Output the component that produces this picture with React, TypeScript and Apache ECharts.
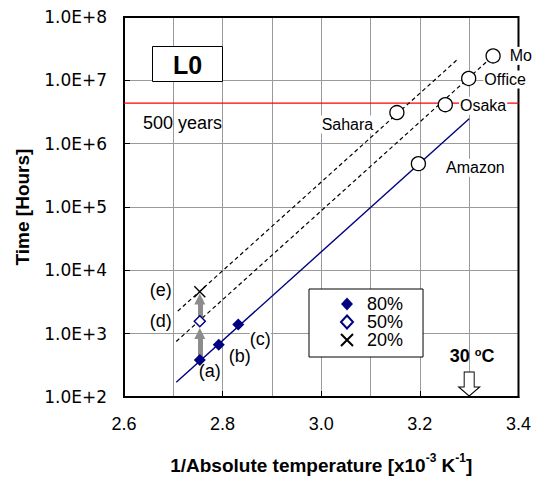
import React, { useEffect, useRef } from "react";
import * as echarts from "echarts";

// ---------- data ----------
const X_MIN = 2.6;
const X_MAX = 3.4;
const X_STEP = 0.2;
const Y_MIN = 1e2;
const Y_MAX = 1e8;

// measured points at 80 / 50 / 20 % (1/T in 1e-3 K^-1, hours)
const X_80 = [2.7537, 2.7921, 2.8317];
const HOURS_80 = [385, 670, 1400];
const NAMES_80 = ["(a)", "(b)", "(c)"];

const X_50 = [2.7537];
const HOURS_50 = [1570];
const NAMES_50 = ["(d)"];

const X_20 = [2.7537];
const HOURS_20 = [4600];
const NAMES_20 = ["(e)"];

// estimated lifetimes at sites
const SITE_NAMES = ["Mo", "Office", "Osaka", "Sahara", "Amazon"];
const SITE_X = [3.3485, 3.299, 3.2516, 3.1534, 3.197];
const SITE_HOURS = [2.43e7, 1.07e7, 4.13e6, 3.1e6, 4.84e5];

// fitted Arrhenius lines (end points)
const FIT_80_X = [2.706, 3.3];
const FIT_80_Y = [171, 2.47e6];
const FIT_50_X = [2.706, 3.3485];
const FIT_50_Y = [753, 2.43e7];
const FIT_20_X = [2.709, 3.277];
const FIT_20_Y = [2270, 2.16e7];

// 500 years limit
const LIMIT_HOURS = 500 * 8760;
const LIMIT_LABEL = "500 years";

// shift arrows (a)->(d)->(e)
const ARROW_X = 2.7537;
const ARROW_FROM = [385, 1570];
const ARROW_TO = [1010, 3520];

// 30 °C marker
const ROOM_X = 3.3;

const PANEL_LABEL = "L0";
const LEGEND_NAMES = ["80%", "50%", "20%"];

// ---------- styles ----------
const FONT = '"Liberation Sans", Arial, Helvetica, sans-serif';
const WIDE_FONT = '"DejaVu Sans", "Liberation Sans", sans-serif';
const NAVY = "#000080";
const RED = "#ff0000";
const GRID_COLOR = "#9a9a9a";
const X_SYMBOL = "path://M0,0L10,10M10,0L0,10";
const DOWN_ARROW =
  "path://M5.5,0L15.5,0L15.5,15L21,15L10.5,24L0,15L5.5,15Z";

const OFFSET_80 = [
  [10, 11],
  [21, 11],
  [22, 15],
];
const OFFSET_50 = [[-39, 0]];
const OFFSET_20 = [[-39, -2]];

const SITE_LABEL_LAYOUT = [
  { position: "right", distance: 8, offset: [0, 0] },
  { position: "right", distance: 7, offset: [0, 1] },
  { position: "right", distance: 6, offset: [0, 1] },
  { position: "left", distance: 15, offset: [0, 12] },
  { position: "right", distance: 19, offset: [0, 4] },
];

const zip = (xs: number[], ys: number[]) => xs.map((x, i) => [x, ys[i]]);

function buildOption() {
  const pointLabel = {
    show: true,
    formatter: "{b}",
    position: "inside",
    color: "#000",
    fontSize: 18,
    fontFamily: FONT,
  };

  return {
    animation: false,
    textStyle: { fontFamily: FONT, color: "#000" },
    title: {
      text: PANEL_LABEL,
      left: 152,
      top: 46,
      padding: [6, 21, 5, 21],
      borderColor: "#000",
      borderWidth: 1,
      backgroundColor: "#fff",
      textStyle: {
        fontSize: 25,
        fontWeight: "bold",
        color: "#000",
        lineHeight: 25,
        fontFamily: FONT,
      },
    },
    legend: {
      data: LEGEND_NAMES,
      left: 309,
      top: 289,
      orient: "vertical",
      itemWidth: 12,
      itemHeight: 13,
      itemGap: 0,
      padding: [6, 20, 8, 31],
      borderColor: "#000",
      borderWidth: 1,
      backgroundColor: "#fff",
      selectedMode: false,
      textStyle: {
        fontSize: 18,
        color: "#000",
        lineHeight: 18,
        padding: [0, 0, 0, 9],
        fontFamily: FONT,
      },
    },
    grid: {
      left: 124,
      right: 11,
      top: 17,
      bottom: 78,
      show: true,
      z: 1,
      borderColor: "#000",
      borderWidth: 2,
      backgroundColor: "transparent",
    },
    xAxis: {
      type: "value",
      min: X_MIN,
      max: X_MAX,
      interval: X_STEP,
      axisLine: { show: true, lineStyle: { color: "#000", width: 2 } },
      axisTick: { show: true, inside: true, length: 6, lineStyle: { color: "#000" } },
      minorTick: { show: false, splitNumber: 2 },
      splitLine: {
        show: true,
        showMinLine: false,
        showMaxLine: false,
        lineStyle: { color: GRID_COLOR, width: 1 },
      },
      minorSplitLine: { show: true, lineStyle: { color: GRID_COLOR, width: 1 } },
      axisLabel: {
        formatter: (v: number) => v.toFixed(1),
        fontSize: 18,
        color: "#000",
        margin: 18,
        fontFamily: FONT,
      },
      name: "1/Absolute temperature [x10{sup|-3} K{sup|-1}]",
      nameLocation: "middle",
      nameGap: 55,
      nameTextStyle: {
        fontSize: 19,
        fontWeight: "bold",
        color: "#000",
        lineHeight: 26,
        fontFamily: FONT,
        rich: {
          sup: {
            fontSize: 12,
            fontWeight: "bold",
            verticalAlign: "top",
            lineHeight: 10,
            color: "#000",
            fontFamily: FONT,
          },
        },
      },
    },
    yAxis: {
      type: "log",
      logBase: 10,
      min: Y_MIN,
      max: Y_MAX,
      axisLine: { show: true, lineStyle: { color: "#000", width: 2 } },
      axisTick: { show: true, inside: true, length: 6, lineStyle: { color: "#000" } },
      splitLine: {
        show: true,
        showMinLine: false,
        showMaxLine: false,
        lineStyle: { color: GRID_COLOR, width: 1 },
      },
      axisLabel: {
        formatter: (v: number) => "1.0E+" + Math.round(Math.log10(v)),
        fontSize: 17,
        color: "#000",
        margin: 17,
        fontFamily: WIDE_FONT,
      },
      name: "Time [Hours]",
      nameLocation: "middle",
      nameGap: 92,
      nameTextStyle: {
        fontSize: 19,
        fontWeight: "bold",
        color: "#000",
        fontFamily: FONT,
      },
    },
    series: [
      {
        name: "fit80",
        type: "line",
        data: zip(FIT_80_X, FIT_80_Y),
        symbol: "none",
        showSymbol: false,
        silent: true,
        z: 2,
        lineStyle: { color: NAVY, width: 1.4 },
      },
      {
        name: "limit",
        type: "line",
        data: [
          [X_MIN, LIMIT_HOURS],
          [X_MAX, LIMIT_HOURS],
        ],
        symbol: "none",
        showSymbol: false,
        silent: true,
        z: 2,
        color: RED,
        lineStyle: { color: RED, width: 1.2, type: "solid" },
      },
      {
        name: "limitLabel",
        type: "scatter",
        data: [{ name: LIMIT_LABEL, value: [X_MIN, LIMIT_HOURS] }],
        symbol: "circle",
        symbolSize: 0.1,
        silent: true,
        z: 3,
        itemStyle: { color: "transparent", opacity: 1 },
        label: {
          show: true,
          formatter: "{b}",
          position: "right",
          distance: 19,
          offset: [0, 20],
          color: "#000",
          fontSize: 18,
          fontFamily: FONT,
        },
      },
      {
        name: "fit50",
        type: "line",
        data: zip(FIT_50_X, FIT_50_Y),
        symbol: "none",
        showSymbol: false,
        silent: true,
        z: 2,
        lineStyle: { color: "#000", width: 1.2, type: [4, 3] },
        markLine: {
          silent: true,
          animation: false,
          symbol: ["none", "triangle"],
          symbolSize: 11,
          lineStyle: { color: "#8c8c8c", width: 5, type: "solid" },
          itemStyle: { color: "#8c8c8c" },
          label: { show: false },
          data: ARROW_FROM.map((from, i) => [
            { coord: [ARROW_X, from] },
            { coord: [ARROW_X, ARROW_TO[i]] },
          ]),
        },
      },
      {
        name: "fit20",
        type: "line",
        data: zip(FIT_20_X, FIT_20_Y),
        symbol: "none",
        showSymbol: false,
        silent: true,
        z: 2,
        lineStyle: { color: "#000", width: 1.2, type: [4, 3] },
      },
      {
        name: "80%",
        type: "scatter",
        z: 5,
        silent: true,
        symbol: "diamond",
        symbolSize: 12,
        itemStyle: { color: NAVY, opacity: 1 },
        data: X_80.map((x, i) => ({
          name: NAMES_80[i],
          value: [x, HOURS_80[i]],
          label: {
            ...pointLabel,
            offset: OFFSET_80[i],
            backgroundColor: i === 2 ? "#fff" : "transparent",
          },
        })),
      },
      {
        name: "50%",
        type: "scatter",
        z: 5,
        silent: true,
        symbol: "diamond",
        symbolSize: 11,
        itemStyle: { color: "#fff", borderColor: NAVY, borderWidth: 1.5, opacity: 1 },
        data: X_50.map((x, i) => ({
          name: NAMES_50[i],
          value: [x, HOURS_50[i]],
          label: { ...pointLabel, offset: OFFSET_50[i] },
        })),
      },
      {
        name: "20%",
        type: "scatter",
        z: 5,
        silent: true,
        symbol: X_SYMBOL,
        symbolSize: 11,
        itemStyle: { color: "#000", borderColor: "#000", borderWidth: 1.4, opacity: 1 },
        data: X_20.map((x, i) => ({
          name: NAMES_20[i],
          value: [x, HOURS_20[i]],
          label: { ...pointLabel, offset: OFFSET_20[i] },
        })),
      },
      {
        name: "sites",
        type: "scatter",
        z: 6,
        silent: true,
        symbol: "circle",
        symbolSize: 14,
        itemStyle: { color: "#fff", borderColor: "#000", borderWidth: 1.3, opacity: 1 },
        data: SITE_X.map((x, i) => ({
          name: SITE_NAMES[i],
          value: [x, SITE_HOURS[i]],
          label: {
            show: true,
            formatter: "{b}",
            color: "#000",
            fontSize: 16,
            fontFamily: FONT,
            backgroundColor: "#fff",
            padding: [1, 1],
            ...SITE_LABEL_LAYOUT[i],
          },
        })),
        markPoint: {
          silent: true,
          animation: false,
          symbol: DOWN_ARROW,
          symbolSize: [21, 24],
          symbolOffset: [0, -13],
          itemStyle: { color: "#fff", borderColor: "#000", borderWidth: 1, opacity: 1 },
          label: {
            show: true,
            position: "top",
            distance: 5,
            offset: [3, 0],
            formatter: "{a|30 }{s|o}{a|C}",
            rich: {
              a: {
                fontSize: 18,
                fontWeight: "bold",
                color: "#000",
                lineHeight: 20,
                fontFamily: FONT,
              },
              s: {
                fontSize: 11,
                fontWeight: "bold",
                color: "#000",
                lineHeight: 8,
                verticalAlign: "top",
                fontFamily: FONT,
              },
            },
          },
          data: [{ coord: [ROOM_X, Y_MIN] }],
        },
      },
    ],
  };
}

export default function App() {
  const ref = useRef<HTMLDivElement>(null);
  useEffect(() => {
    if (!ref.current) return;
    const chart = echarts.init(ref.current, null, { renderer: "svg" });
    chart.setOption(buildOption() as any);
    return () => chart.dispose();
  }, []);
  return (
    <div
      ref={ref}
      style={{ position: "absolute", left: 0, top: 0, width: 534, height: 483 }}
    />
  );
}
